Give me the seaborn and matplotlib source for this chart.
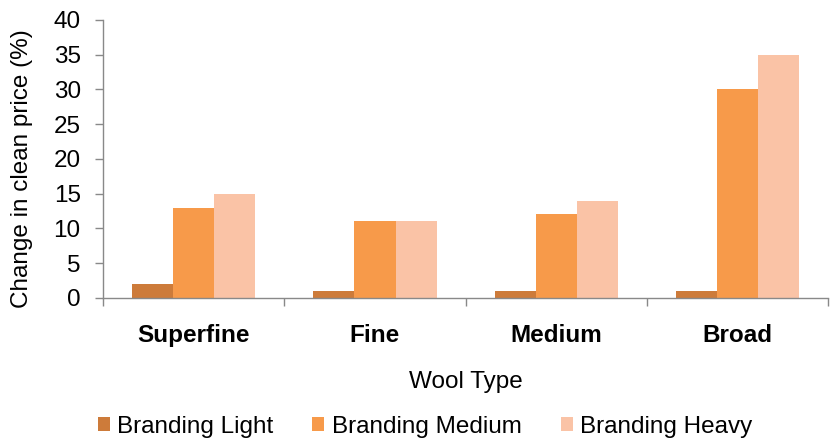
import pandas as pd
import matplotlib.pyplot as plt
import seaborn as sns
from matplotlib.ticker import FixedLocator

# Chart values
wool_types = ["Superfine", "Fine", "Medium", "Broad"]
branding_light = [2, 1, 1, 1]
branding_medium = [13, 11, 12, 30]
branding_heavy = [14.9, 11, 14, 35]
series_names = ["Branding Light", "Branding Medium", "Branding Heavy"]
colors = ["#CD7B3A", "#F79A4A", "#FAC3A6"]

df = pd.DataFrame({
    "Wool Type": wool_types * 3,
    "Series": [s for s in series_names for _ in wool_types],
    "Change": branding_light + branding_medium + branding_heavy,
})

sns.set_style("white")
plt.rcParams['font.family'] = ['Liberation Sans', 'DejaVu Sans']
plt.rcParams['text.color'] = 'black'
plt.rcParams['axes.labelcolor'] = 'black'
plt.rcParams['xtick.color'] = 'black'
plt.rcParams['ytick.color'] = 'black'

fs = 17.5

fig = plt.figure(figsize=(8.3, 4.4), dpi=100)
ax = fig.add_axes([0.124, 0.323, 0.874, 0.632])

sns.barplot(data=df, x="Wool Type", y="Change", hue="Series",
            order=wool_types, hue_order=series_names,
            palette=colors, width=0.68, gap=0, saturation=1,
            edgecolor="none", ax=ax)

ax.set_xlim(-0.5, 3.5)
ax.set_ylim(0, 40)
ax.set_yticks(range(0, 41, 5))

for side in ["top", "right"]:
    ax.spines[side].set_visible(False)
for side in ["left", "bottom"]:
    ax.spines[side].set_color("#898989")
    ax.spines[side].set_linewidth(1)

ax.tick_params(axis="y", left=True, length=6, width=1, color="#898989",
               labelsize=fs, pad=10)
ax.tick_params(axis="x", which="major", length=0, labelsize=fs, pad=19)
ax.xaxis.set_minor_locator(FixedLocator([-0.5, 0.5, 1.5, 2.5, 3.5]))
ax.tick_params(axis="x", which="minor", bottom=True, length=6, width=1, color="#898989")
for lbl in ax.get_xticklabels():
    lbl.set_fontweight("bold")

ax.set_ylabel("Change in clean price (%)", fontsize=fs)
ax.yaxis.set_label_coords(-0.0965, 0.464)
ax.set_xlabel("Wool Type", fontsize=fs, labelpad=17)

ax.get_legend().remove()
handles, labels = ax.get_legend_handles_labels()
fig.legend(handles, labels, loc="center", bbox_to_anchor=(0.512, 1 - 427 / 440),
           ncol=3, frameon=False, fontsize=fs, handlelength=0.5, handleheight=0.5,
           handletextpad=0.3, columnspacing=1.6, borderpad=0)

plt.savefig("out.png", dpi=100)
